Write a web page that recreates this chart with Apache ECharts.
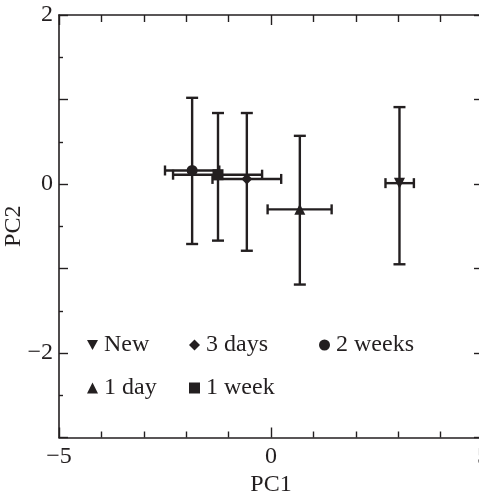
<!DOCTYPE html>
<html>
<head>
<meta charset="utf-8">
<script src="https://cdn.jsdelivr.net/npm/echarts@6/dist/echarts.min.js"></script>
<style>
    html, body { margin: 0; padding: 0; background: #fff; }
    #chart { width: 479px; height: 499px; }
</style>
</head>
<body>
<div id="chart"></div>
<script>
    // storage groups (legend order)
    var groups = ['New', '1 day', '3 days', '1 week', '2 weeks'];
    var pc1 = [3.03, 0.68, -0.57, -1.25, -1.86];
    var pc2 = [0.01, -0.30, 0.06, 0.11, 0.16];
    // error bar extents
    var pc1Low = [2.70, -0.08, -1.38, -2.31, -2.50];
    var pc1High = [3.37, 1.43, 0.24, -0.21, -1.22];
    var pc2Low = [-0.95, -1.19, -0.79, -0.67, -0.71];
    var pc2High = [0.91, 0.57, 0.84, 0.84, 1.02];
    var xTicks = [-5, 0, 5];
    var yTickLabels = [-2, 0, 2];

    var ink = '#231f20';
    var font = '"Liberation Serif", "DejaVu Serif", serif';
    var downTri = 'path://M0,0 L10,0 L5,9 Z';
    var icons = {
        'New': downTri,
        '1 day': 'triangle',
        '3 days': 'diamond',
        '1 week': 'rect',
        '2 weeks': 'circle'
    };

    function minus(v) {
        return v < 0 ? '\u2212' + Math.abs(v) : String(v);
    }

    var barData = groups.map(function (g, i) {
        return [pc1[i], pc2[i], pc1Low[i], pc1High[i], pc2Low[i], pc2High[i]];
    });

    function renderBars(params, api) {
        var c = api.coord([api.value(0), api.value(1)]);
        var l = api.coord([api.value(2), api.value(1)]);
        var r = api.coord([api.value(3), api.value(1)]);
        var t = api.coord([api.value(0), api.value(5)]);
        var b = api.coord([api.value(0), api.value(4)]);
        var st = { stroke: ink, lineWidth: 2.4 };
        var cap = 6, capH = 5;
        var lines = [
            [l[0], c[1], r[0], c[1]],
            [c[0], t[1], c[0], b[1]],
            [c[0] - cap, t[1], c[0] + cap, t[1]],
            [c[0] - cap, b[1], c[0] + cap, b[1]],
            [l[0], c[1] - capH, l[0], c[1] + capH],
            [r[0], c[1] - capH, r[0], c[1] + capH]
        ];
        return {
            type: 'group',
            children: lines.map(function (p) {
                return { type: 'line', shape: { x1: p[0], y1: p[1], x2: p[2], y2: p[3] }, style: st };
            })
        };
    }

    var series = [{
        type: 'custom',
        name: 'bars',
        renderItem: renderBars,
        data: barData,
        encode: { x: 0, y: 1 },
        silent: true,
        z: 2
    }];
    groups.forEach(function (g, i) {
        series.push({
            type: 'scatter',
            name: g,
            symbol: icons[g],
            symbolSize: 11,
            itemStyle: { color: ink, opacity: 1 },
            data: [[pc1[i], pc2[i]]],
            z: 3
        });
    });

    function legend(names, left) {
        return {
            orient: 'vertical',
            left: left,
            top: 328,
            itemWidth: 11,
            itemHeight: 11,
            itemGap: 19,
            itemStyle: { color: ink, opacity: 1 },
            textStyle: { fontFamily: font, fontSize: 24, color: ink, lineHeight: 24, padding: [0, 0, 0, 1] },
            data: names.map(function (n) { return { name: n, icon: icons[n] }; })
        };
    }

    var axisLine = { show: true, onZero: false, lineStyle: { color: ink, width: 1.6 } };
    var labelStyle = { fontFamily: font, fontSize: 24, color: ink };
    var tickStyle = { color: ink, width: 1.4 };

    var chart = echarts.init(document.getElementById('chart'));
    chart.setOption({
        animation: false,
        backgroundColor: '#fff',
        grid: { left: 59, top: 15, width: 424, height: 422.5, containLabel: false, outerBoundsMode: 'none' },
        legend: [
            legend(['New', '1 day'], 82),
            legend(['3 days', '1 week'], 184),
            legend(['2 weeks'], 314)
        ],
        xAxis: [{
            type: 'value', min: xTicks[0], max: xTicks[2], interval: 5,
            position: 'bottom',
            name: 'PC1', nameLocation: 'middle', nameGap: 35, nameMoveOverlap: false,
            nameTextStyle: labelStyle,
            axisLine: axisLine,
            axisTick: { inside: true, length: 10, lineStyle: tickStyle },
            minorTick: { show: true, splitNumber: 5, length: 6, lineStyle: tickStyle },
            axisLabel: Object.assign({ margin: 7, formatter: minus }, labelStyle),
            splitLine: { show: false }
        }, {
            type: 'value', min: xTicks[0], max: xTicks[2], interval: 5,
            position: 'top',
            axisLine: axisLine,
            axisTick: { inside: true, length: 10, lineStyle: tickStyle },
            minorTick: { show: true, splitNumber: 5, length: 7, lineStyle: tickStyle },
            axisLabel: { show: false },
            splitLine: { show: false }
        }],
        yAxis: [{
            type: 'value', min: -3, max: 2, interval: 1,
            position: 'left',
            name: 'PC2', nameLocation: 'middle', nameGap: 33, nameMoveOverlap: false,
            nameTextStyle: labelStyle,
            axisLine: axisLine,
            axisTick: { inside: true, length: 9, lineStyle: tickStyle },
            minorTick: { show: true, splitNumber: 2, length: 4, lineStyle: tickStyle },
            axisLabel: Object.assign({
                margin: 6,
                formatter: function (v) { return yTickLabels.indexOf(v) >= 0 ? minus(v) : ''; }
            }, labelStyle),
            splitLine: { show: false }
        }, {
            type: 'value', min: -3, max: 2, interval: 1,
            position: 'right',
            axisLine: axisLine,
            axisTick: { inside: true, length: 9, lineStyle: tickStyle },
            minorTick: { show: true, splitNumber: 2, length: 4, lineStyle: tickStyle },
            axisLabel: { show: false },
            splitLine: { show: false }
        }],
        series: series
    });
</script>
</body>
</html>
